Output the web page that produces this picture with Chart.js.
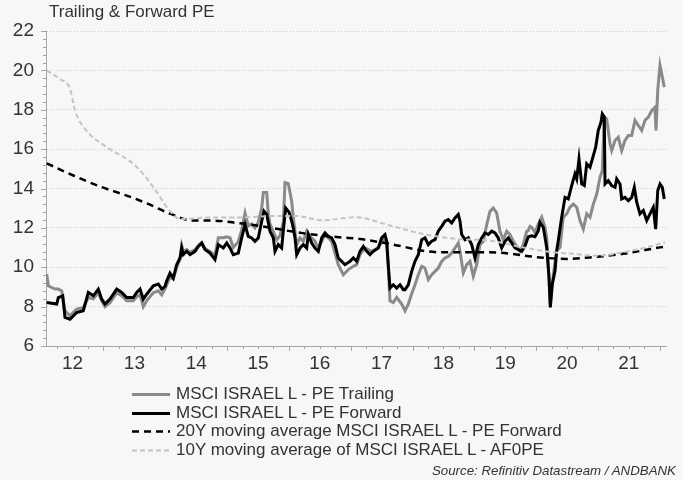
<!DOCTYPE html>
<html>
<head>
<meta charset="utf-8">
<script src="https://cdn.jsdelivr.net/npm/chart.js@4.4.1/dist/chart.umd.min.js"></script>
<style>
  html, body { margin:0; padding:0; background:#f7f7f7; }
  #wrap { position:relative; width:683px; height:480px; background:#f7f7f7; overflow:hidden;
          font-family:"Liberation Sans", Arial, sans-serif; color:#333; }
  #c { position:absolute; left:0; top:0; }
  #title { position:absolute; left:49px; top:2px; font-size:17px; line-height:20px; color:#333; white-space:nowrap; }
  #legend { position:absolute; left:132px; top:385px; }
  .row { position:relative; height:18.7px; line-height:18.7px; font-size:17px; color:#333; white-space:nowrap; }
  .row svg { position:absolute; left:0; top:0; }
  .row span { position:absolute; left:44px; top:0; }
  #source { position:absolute; right:7px; top:463px; font-size:13.3px; font-style:italic; color:#333; white-space:nowrap; line-height:16px; }
</style>
</head>
<body>
<div id="wrap">
  <canvas id="c" width="683" height="480"></canvas>
  <div id="title">Trailing &amp; Forward PE</div>
  <div id="legend"></div>
  <div id="source">Source: Refinitiv Datastream / ANDBANK</div>
</div>
<script>
// ---- Data (decimal years, PE values) ----
const yearTicks = [2012, 2013, 2014, 2015, 2016, 2017, 2018, 2019, 2020, 2021];

const seriesNames = [
  "MSCI ISRAEL L - PE Trailing",
  "MSCI ISRAEL L - PE Forward",
  "20Y moving average MSCI ISRAEL L - PE Forward",
  "10Y moving average of MSCI ISRAEL L - AF0PE"
];

const fwdDates = [2012.081,2012.243,2012.269,2012.340,2012.377,2012.458,2012.566,2012.673,2012.754,2012.835,2012.916,2012.971,2013.024,2013.105,2013.214,2013.295,2013.375,2013.482,2013.537,2013.591,2013.644,2013.699,2013.806,2013.887,2013.942,2013.995,2014.023,2014.076,2014.129,2014.184,2014.238,2014.265,2014.291,2014.346,2014.400,2014.481,2014.534,2014.589,2014.642,2014.723,2014.804,2014.858,2014.939,2014.994,2015.047,2015.100,2015.181,2015.236,2015.290,2015.343,2015.398,2015.451,2015.505,2015.560,2015.597,2015.641,2015.694,2015.748,2015.775,2015.828,2015.883,2015.909,2015.948,2016.002,2016.045,2016.071,2016.099,2016.126,2016.180,2016.233,2016.288,2016.314,2016.369,2016.422,2016.476,2016.531,2016.584,2016.637,2016.692,2016.746,2016.799,2016.854,2016.908,2016.989,2017.042,2017.097,2017.150,2017.204,2017.259,2017.312,2017.366,2017.446,2017.501,2017.555,2017.582,2017.608,2017.636,2017.689,2017.744,2017.798,2017.851,2017.879,2017.932,2017.987,2018.040,2018.094,2018.149,2018.202,2018.256,2018.311,2018.364,2018.417,2018.472,2018.526,2018.579,2018.634,2018.688,2018.741,2018.769,2018.796,2018.850,2018.903,2018.958,2019.011,2019.065,2019.120,2019.173,2019.227,2019.282,2019.335,2019.388,2019.443,2019.497,2019.550,2019.605,2019.659,2019.712,2019.767,2019.820,2019.874,2019.929,2019.982,2020.036,2020.063,2020.116,2020.144,2020.171,2020.209,2020.230,2020.262,2020.306,2020.333,2020.359,2020.414,2020.468,2020.521,2020.576,2020.629,2020.657,2020.694,2020.738,2020.780,2020.819,2020.872,2020.926,2020.964,2021.006,2021.050,2021.071,2021.103,2021.115,2021.168,2021.223,2021.277,2021.304,2021.358,2021.385,2021.438,2021.492,2021.547,2021.589,2021.628,2021.681,2021.735,2021.790,2021.843,2021.896,2021.935,2021.968,2022.005,2022.042,2022.074];
const fwdPE = [8.21,8.13,8.46,8.55,7.45,7.36,7.70,7.79,8.72,8.55,8.89,8.38,8.13,8.38,8.89,8.72,8.46,8.46,8.72,8.89,8.38,8.63,9.06,9.15,8.89,9.03,9.31,9.70,9.45,10.13,10.47,10.98,10.64,10.81,10.64,10.81,11.06,11.23,10.90,10.72,10.39,11.15,10.98,11.23,10.98,10.64,10.72,11.49,12.17,11.57,11.49,11.32,11.49,12.34,12.84,12.68,11.83,11.49,10.81,11.15,10.98,11.83,13.01,12.80,12.34,12.00,11.49,10.64,10.98,11.15,10.98,11.66,11.23,10.98,10.81,11.49,11.74,11.57,11.49,11.15,10.47,10.30,10.13,10.30,10.47,10.30,10.81,11.06,10.81,10.64,10.81,10.98,11.49,11.66,11.32,10.13,8.94,9.11,8.94,9.11,8.86,8.86,9.11,9.79,10.30,10.64,11.40,11.49,11.15,11.32,11.40,11.83,12.08,12.34,12.42,12.25,12.50,12.68,12.34,11.66,11.40,11.49,11.15,10.47,11.15,11.49,11.74,11.66,11.83,11.74,11.49,10.98,11.32,11.49,11.23,10.98,10.89,10.81,11.08,11.55,11.60,11.55,11.86,12.28,12.03,11.52,11.01,9.48,7.96,9.14,9.82,10.84,11.35,12.54,13.55,13.47,14.15,14.74,14.49,15.50,14.23,14.15,15.25,15.08,15.67,16.10,16.95,17.37,17.79,17.63,14.23,14.40,14.15,14.06,14.49,14.23,13.47,13.55,13.38,13.55,14.06,13.30,12.71,12.88,12.37,12.71,13.04,11.94,13.89,14.23,14.06,13.47];

const trlDates = [2012.081,2012.107,2012.162,2012.215,2012.269,2012.324,2012.377,2012.458,2012.566,2012.673,2012.754,2012.835,2012.916,2012.971,2013.024,2013.105,2013.214,2013.295,2013.375,2013.482,2013.537,2013.591,2013.644,2013.699,2013.806,2013.887,2013.942,2013.995,2014.076,2014.129,2014.184,2014.238,2014.265,2014.291,2014.346,2014.400,2014.481,2014.534,2014.589,2014.642,2014.723,2014.804,2014.858,2014.939,2014.994,2015.047,2015.100,2015.181,2015.236,2015.290,2015.343,2015.398,2015.451,2015.505,2015.560,2015.586,2015.641,2015.667,2015.694,2015.748,2015.803,2015.856,2015.909,2015.937,2015.990,2016.045,2016.071,2016.126,2016.180,2016.233,2016.288,2016.341,2016.422,2016.476,2016.531,2016.584,2016.692,2016.799,2016.880,2016.961,2017.042,2017.097,2017.150,2017.231,2017.340,2017.446,2017.527,2017.582,2017.608,2017.636,2017.689,2017.744,2017.825,2017.879,2017.932,2017.987,2018.040,2018.094,2018.149,2018.202,2018.256,2018.311,2018.364,2018.417,2018.472,2018.526,2018.579,2018.634,2018.688,2018.741,2018.769,2018.822,2018.877,2018.930,2018.984,2019.039,2019.092,2019.146,2019.201,2019.254,2019.307,2019.362,2019.416,2019.469,2019.524,2019.578,2019.631,2019.686,2019.739,2019.793,2019.820,2019.848,2019.874,2019.901,2019.929,2019.982,2020.036,2020.091,2020.144,2020.171,2020.197,2020.230,2020.262,2020.294,2020.333,2020.387,2020.440,2020.495,2020.549,2020.602,2020.657,2020.710,2020.764,2020.819,2020.872,2020.926,2020.981,2021.034,2021.071,2021.103,2021.142,2021.196,2021.223,2021.277,2021.330,2021.385,2021.438,2021.492,2021.547,2021.600,2021.654,2021.709,2021.762,2021.816,2021.871,2021.924,2021.940,2021.968,2022.005,2022.032,2022.074];
const trlPE = [9.65,9.06,8.97,8.89,8.89,8.80,7.79,7.53,7.87,7.95,8.46,8.40,8.70,8.30,8.00,8.20,8.70,8.55,8.30,8.30,8.50,8.60,8.00,8.30,8.70,8.80,8.60,8.90,9.50,9.40,10.00,10.40,11.10,10.80,10.90,10.75,10.90,11.10,11.25,10.95,10.80,10.60,11.50,11.50,11.55,11.50,11.00,11.30,11.90,12.75,12.10,12.20,12.00,12.30,13.00,13.80,13.80,12.70,12.20,11.80,11.40,11.60,12.30,14.30,14.25,13.35,12.50,11.15,11.49,11.32,11.83,11.57,11.32,10.98,11.32,11.66,11.32,10.13,9.62,9.88,10.05,10.13,10.64,10.98,10.81,10.98,11.40,11.32,9.96,8.30,8.21,8.47,8.13,7.79,8.13,8.65,9.11,9.62,10.05,9.96,9.37,9.62,9.79,9.96,10.30,10.47,10.55,10.72,10.98,11.23,10.81,9.71,10.13,10.30,9.54,10.13,11.15,11.32,12.17,12.84,13.01,12.76,11.83,11.40,11.83,11.66,11.32,11.06,10.81,11.15,11.52,11.83,11.86,12.08,12.03,11.77,12.20,12.54,12.03,11.52,10.16,8.13,9.14,9.99,10.84,11.01,12.54,12.71,13.05,13.21,13.05,12.37,11.94,12.71,12.54,13.21,13.72,14.57,14.91,17.63,17.54,16.27,15.93,16.44,16.61,15.93,16.44,16.69,16.69,17.46,17.20,16.95,17.46,17.63,17.96,18.13,16.95,18.98,20.25,19.83,19.15];

const ma20Dates = [2012.081,2012.511,2012.943,2013.375,2013.752,2014.076,2014.448,2014.772,2015.209,2015.479,2016.288,2016.827,2017.150,2017.636,2018.445,2019.254,2020.063,2020.500,2020.872,2021.406,2022.005,2022.086];
const ma20PE = [15.28,14.66,14.10,13.64,13.18,12.72,12.37,12.37,12.23,12.12,11.70,11.52,11.44,11.18,10.76,10.76,10.50,10.42,10.50,10.68,11.01,11.05];

const ma10Dates = [2012.081,2012.300,2012.458,2012.539,2012.701,2013.052,2013.375,2013.537,2013.806,2014.076,2014.238,2014.772,2015.209,2015.743,2016.126,2016.552,2016.827,2017.070,2017.636,2018.170,2018.720,2019.254,2019.788,2020.273,2020.597,2020.985,2021.406,2021.794,2022.086];
const ma10PE = [20.00,19.55,19.07,17.96,17.03,16.10,15.50,15.10,14.07,12.85,12.45,12.53,12.53,12.60,12.60,12.38,12.47,12.54,12.12,11.69,11.44,11.35,11.01,10.76,10.68,10.59,10.76,11.01,11.27];

// ---- helpers ----
const toXY = (xs, ys) => xs.map((x, i) => ({ x: x, y: ys[i] }));

const axisTicks = {
  id: 'axisTicks',
  afterDraw(chart) {
    const { ctx, scales: { x, y }, chartArea: a } = chart;
    ctx.save();
    ctx.strokeStyle = '#a6a6a6';
    ctx.lineWidth = 1;
    ctx.beginPath();
    for (let q = Math.ceil(x.min * 4); q <= Math.floor(x.max * 4); q++) {
      const px = Math.round(x.getPixelForValue(q / 4)) + 0.5;
      const len = (q % 4 === 0) ? 5 : 3;
      ctx.moveTo(px, a.bottom);
      ctx.lineTo(px, a.bottom + len);
    }
    for (let i = 0; i <= 40; i++) {
      const v = y.min + i * 0.4;
      const py = Math.round(y.getPixelForValue(v)) + 0.5;
      const len = (i % 5 === 0) ? 5 : 3;
      ctx.moveTo(a.left - len, py);
      ctx.lineTo(a.left, py);
    }
    ctx.stroke();
    ctx.restore();
  }
};

const font = "'Liberation Sans', Arial, sans-serif";

const chart = new Chart(document.getElementById('c'), {
  type: 'line',
  data: {
    datasets: [
      { label: seriesNames[0], data: toXY(trlDates, trlPE), borderColor: '#8a8a8a', borderWidth: 3, pointRadius: 0, tension: 0, order: 4 },
      { label: seriesNames[1], data: toXY(fwdDates, fwdPE), borderColor: '#000000', borderWidth: 3, pointRadius: 0, tension: 0, order: 3 },
      { label: seriesNames[2], data: toXY(ma20Dates, ma20PE), borderColor: '#000000', borderWidth: 2.5, borderDash: [7, 5], pointRadius: 0, cubicInterpolationMode: 'monotone', order: 2 },
      { label: seriesNames[3], data: toXY(ma10Dates, ma10PE), borderColor: '#c4c4c4', borderWidth: 2, borderDash: [5, 3], pointRadius: 0, cubicInterpolationMode: 'monotone', order: 1 }
    ]
  },
  options: {
    responsive: false,
    animation: false,
    devicePixelRatio: 1,
    layout: { padding: { left: 0, top: 31, right: 17, bottom: 104 } },
    plugins: { legend: { display: false }, tooltip: { enabled: false }, title: { display: false } },
    scales: {
      x: {
        type: 'linear',
        min: 2012.0696,
        max: 2022.1019,
        afterBuildTicks: (s) => { s.ticks = yearTicks.map(yr => ({ value: yr + 0.5 })); },
        afterFit: (s) => { s.height = 30; },
        grid: { display: false, drawTicks: false },
        border: { display: true, color: '#a6a6a6', width: 1 },
        ticks: {
          autoSkip: false, maxRotation: 0, padding: 6,
          color: '#333', font: { family: font, size: 19 },
          callback: (v) => String(Math.floor(v) % 100)
        }
      },
      y: {
        min: 6,
        max: 22,
        afterFit: (s) => { s.width = 46; },
        grid: { color: '#cccccc', lineWidth: 1, drawTicks: false },
        border: { display: true, color: '#a6a6a6', width: 1, dash: [1, 2] },
        ticks: { stepSize: 2, padding: 12, color: '#333', font: { family: font, size: 19 } }
      }
    }
  },
  plugins: [axisTicks]
});

// ---- HTML legend built from the datasets ----
const legend = document.getElementById('legend');
chart.data.datasets.forEach(ds => {
  const row = document.createElement('div');
  row.className = 'row';
  const dash = ds.borderDash ? ds.borderDash.join(',') : 'none';
  row.innerHTML = '<svg width="40" height="18.7"><line x1="0" y1="9.5" x2="38" y2="9.5" stroke="' + ds.borderColor +
    '" stroke-width="' + ds.borderWidth + '" stroke-dasharray="' + dash + '"/></svg>';
  const sp = document.createElement('span');
  sp.textContent = ds.label;
  row.appendChild(sp);
  legend.appendChild(row);
});
</script>
</body>
</html>
